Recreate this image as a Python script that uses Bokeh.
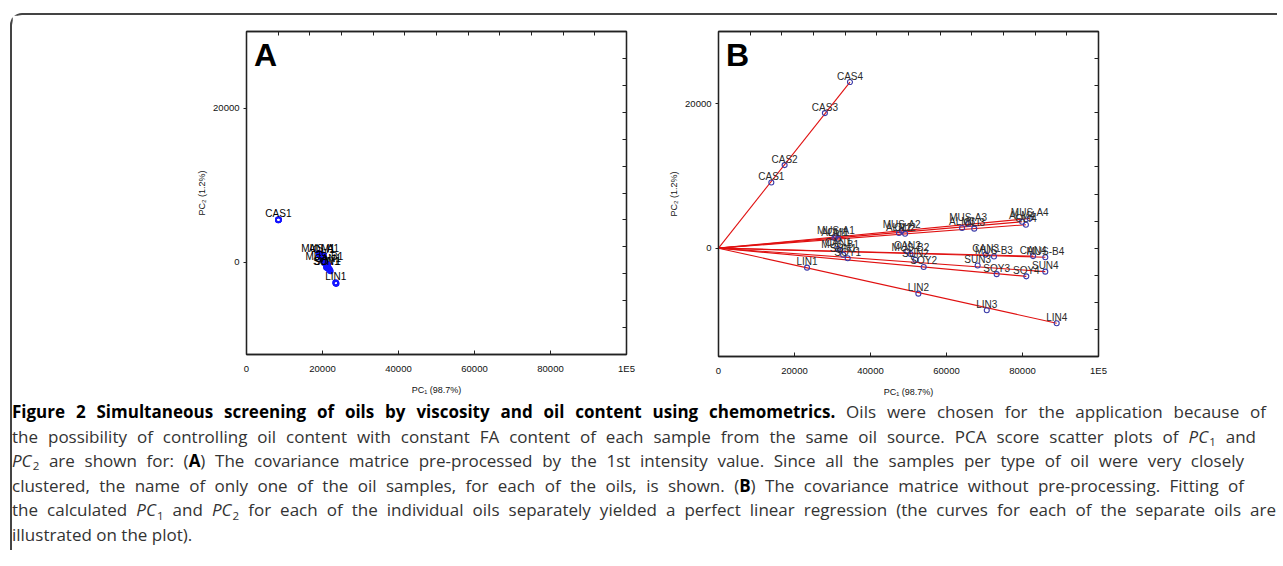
from bokeh.plotting import figure
from bokeh.models import (ColumnDataSource, FixedTicker, LinearAxis, Range1d, Label, Div,
                          BasicTickFormatter)
from bokeh.layouts import row, column
from bokeh.core.properties import value
from bokeh.embed import file_html
from bokeh.resources import INLINE

# ---------------- data ----------------
oils = ["CAS", "LIN", "MUS-A", "ALM", "OLI", "MUS-B", "CAN", "SUN", "SOY"]

# Panel A: pre-processed by 1st intensity value (4 samples per oil, very closely clustered)
a_names = ["CAS1", "CAS2", "CAS3", "CAS4",
           "LIN1", "LIN2", "LIN3", "LIN4",
           "MUS-A1", "MUS-A2", "MUS-A3", "MUS-A4",
           "ALM1", "ALM2", "ALM3", "ALM4",
           "OLI1", "OLI2", "OLI3", "OLI4",
           "MUS-B1", "MUS-B2", "MUS-B3", "MUS-B4",
           "CAN1", "CAN2", "CAN3", "CAN4",
           "SUN1", "SUN2", "SUN3", "SUN4",
           "SOY1", "SOY2", "SOY3", "SOY4"]
a_pc1 = [8400, 8380, 8420, 8440,
         23500, 23450, 23550, 23600,
         19400, 19000, 19150, 19300,
         19900, 19250, 19500, 19700,
         20300, 19600, 19800, 20000,
         20500, 20100, 20300, 20600,
         21400, 20700, 20900, 21100,
         21000, 21200, 21400, 21600,
         21300, 21700, 21900, 22100]
a_pc2 = [5500, 5480, 5520, 5540,
         -2700, -2650, -2750, -2780,
         950, 1150, 1050, 1000,
         1000, 950, 850, 800,
         900, 700, 600, 500,
         -100, 300, 150, 0,
         -300, -50, -200, -350,
         -650, -500, -650, -800,
         -750, -900, -1000, -1150]

# Panel B: without pre-processing
b_names = ["CAS1", "CAS2", "CAS3", "CAS4",
           "LIN1", "LIN2", "LIN3", "LIN4",
           "MUS-A1", "MUS-A2", "MUS-A3", "MUS-A4",
           "ALM1", "ALM2", "ALM3", "ALM4",
           "OLI1", "OLI2", "OLI3", "OLI4",
           "MUS-B1", "MUS-B2", "MUS-B3", "MUS-B4",
           "CAN1", "CAN2", "CAN3", "CAN4",
           "SUN1", "SUN2", "SUN3", "SUN4",
           "SOY1", "SOY2", "SOY3", "SOY4"]
b_pc1 = [13900, 17400, 28000, 34600,
         23300, 52600, 70600, 89000,
         30900, 48200, 65700, 81900,
         30500, 47500, 64100, 79900,
         31500, 49100, 67300, 80900,
         32000, 50500, 72500, 86000,
         31500, 49700, 70300, 82800,
         32800, 51800, 68200, 86000,
         34000, 54000, 73200, 81000]
b_pc2 = [9100, 11500, 18700, 23000,
         -2700, -6300, -8600, -10400,
         1650, 2400, 3350, 4100,
         1400, 2100, 2800, 3650,
         1300, 2000, 2700, 3250,
         -300, -800, -1150, -1250,
         -100, -450, -900, -1100,
         -900, -1600, -2400, -3250,
         -1400, -2600, -3600, -3900]

x_ticks = [0, 20000, 40000, 60000, 80000, 100000]
x_tick_text = {100000: "1E5"}
y_ticks = [0, 20000]
x_range_ab = (0, 100000)
a_y_range = (-12000, 30000)
b_y_range = (-15000, 30000)
x_title = "PC\u2081 (98.7%)"
y_title = "PC\u2082 (1.2%)"

FONT = "Liberation Sans"
AX = "#222222"


def make_panel(names, pc1, pc2, yr, letter, lines, border, frame_h,
               mcolor, mwidth, tcolor):
    p = figure(x_range=Range1d(*x_range_ab), y_range=Range1d(*yr),
               frame_width=380, frame_height=frame_h,
               min_border_left=border[0], min_border_right=border[1],
               min_border_top=border[2], min_border_bottom=border[3],
               output_backend="svg", toolbar_location=None)
    p.xgrid.visible = False
    p.ygrid.visible = False
    p.outline_line_color = AX
    p.outline_line_width = 1.3
    p.background_fill_color = "white"
    p.border_fill_color = "white"

    xa = p.xaxis[0]
    xa.ticker = FixedTicker(ticks=x_ticks)
    xa.formatter = BasicTickFormatter(use_scientific=False)
    xa.major_label_overrides = x_tick_text
    xa.major_tick_in = 4
    xa.major_tick_out = 0
    xa.minor_tick_line_color = None
    xa.major_label_standoff = 8
    xa.axis_label = x_title
    xa.axis_label_standoff = 8

    ya = p.yaxis[0]
    ya.ticker = FixedTicker(ticks=y_ticks)
    ya.formatter = BasicTickFormatter(use_scientific=False)
    ya.major_tick_in = 0
    ya.major_tick_out = 3
    ya.minor_tick_line_color = None
    ya.major_label_standoff = 4
    ya.axis_label = y_title
    ya.axis_label_standoff = 3

    for ax in (xa, ya):
        ax.axis_line_color = AX
        ax.axis_line_width = 1.3
        ax.major_tick_line_color = AX
        ax.major_label_text_font = FONT
        ax.major_label_text_font_size = "9.5px"
        ax.major_label_text_color = "#111111"
        ax.axis_label_text_font = FONT
        ax.axis_label_text_font_size = "9px"
        ax.axis_label_text_font_style = "normal"
        ax.axis_label_text_color = "#111111"

    top_ticks = [x_range_ab[0] + k * (x_range_ab[1] - x_range_ab[0]) / 12 for k in range(1, 12)]
    right_ticks = [yr[0] + k * (yr[1] - yr[0]) / 12 for k in range(1, 12)]
    ta = LinearAxis(ticker=FixedTicker(ticks=top_ticks),
                    major_label_overrides={t: "" for t in top_ticks})
    ra = LinearAxis(ticker=FixedTicker(ticks=right_ticks),
                    major_label_overrides={t: "" for t in right_ticks})
    for ax in (ta, ra):
        ax.major_tick_in = 4
        ax.major_tick_out = 0
        ax.minor_tick_line_color = None
        ax.major_label_standoff = 0
        ax.axis_line_color = AX
        ax.axis_line_width = 1.3
        ax.major_tick_line_color = AX
    p.add_layout(ta, "above")
    p.add_layout(ra, "right")

    src = ColumnDataSource(dict(x=pc1, y=pc2, name=names))

    if lines:
        x1, y1 = [], []
        for oil in oils:
            idx = [i for i, n in enumerate(names) if n[:-1] == oil]
            j = max(idx, key=lambda i: pc1[i])
            x1.append(pc1[j])
            y1.append(pc2[j])
        lsrc = ColumnDataSource(dict(x0=[0] * len(x1), y0=[0] * len(y1), x1=x1, y1=y1))
        p.segment(x0="x0", y0="y0", x1="x1", y1="y1", source=lsrc,
                  line_color="#e01010", line_width=1.1)

    p.scatter(x="x", y="y", source=src, marker="circle", size=5,
              fill_color=None, line_color=mcolor, line_width=mwidth)

    if lines:
        lab = src
    else:
        keep = [i for i, n in enumerate(names) if n.endswith("1")]
        lab = ColumnDataSource(dict(x=[pc1[i] for i in keep], y=[pc2[i] for i in keep],
                                    name=[names[i] for i in keep]))
    p.text(x="x", y="y", text="name", source=lab, text_align="center",
           text_baseline="alphabetic", y_offset=-6,
           text_font=value(FONT), text_font_size="10px", text_color=tcolor)

    lx = x_range_ab[0] + 0.02 * (x_range_ab[1] - x_range_ab[0])
    ly = yr[1] - 23 / frame_h * (yr[1] - yr[0])
    p.add_layout(Label(x=lx, y=ly, text=letter, text_font=FONT, text_font_size="32px",
                       text_font_style="bold", text_color="black",
                       text_baseline="alphabetic", text_align="left"))
    return p


pA = make_panel(a_names, a_pc1, a_pc2, a_y_range, "A", False,
                (234, 36, 16, 46), 323, "#1414ff", 1.6, "#000000")
pB = make_panel(b_names, b_pc1, b_pc2, b_y_range, "B", True,
                (56, 179, 15, 45), 325, "#3a3aa8", 1.1, "#2a2a2a")

SUB = "<sub style='font-size:0.68em;line-height:0;vertical-align:-0.28em;margin-left:1px'>{}</sub>"
PC1 = "<i>PC</i>" + SUB.format("1")
PC2 = "<i>PC</i>" + SUB.format("2")

cap_lines = [
    "<b style='color:#000'>Figure 2 Simultaneous screening of oils by viscosity and oil content using chemometrics.</b> "
    "Oils were chosen for the application because of",
    "the possibility of controlling oil content with constant FA content of each sample from the same oil source. "
    "PCA score scatter plots of " + PC1 + " and",
    PC2 + " are shown for: (<b style='color:#000'>A</b>) The covariance matrice pre-processed by the 1st intensity value. "
    "Since all the samples per type of oil were very closely",
    "clustered, the name of only one of the oil samples, for each of the oils, is shown. "
    "(<b style='color:#000'>B</b>) The covariance matrice without pre-processing. Fitting of",
    "the calculated " + PC1 + " and " + PC2 + " for each of the individual oils separately yielded a perfect "
    "linear regression (the curves for each of the separate oils are",
    "illustrated on the plot).",
]
cap_widths = [1254, 1244, 1232, 1232, 1264, None]

html_parts = []
for t, w in zip(cap_lines, cap_widths):
    if w:
        html_parts.append(f"<div style='width:{w}px;text-align:justify;text-align-last:justify'>{t}</div>")
    else:
        html_parts.append(f"<div>{t}</div>")
cap_html = ("<div style=\"font-family:'Open Sans';font-size:17px;"
            "line-height:24.6px;color:#333;margin:0;padding:0\">" + "".join(html_parts) + "</div>")

cap = Div(text=cap_html, width=1265, height=150, styles={"margin": "0", "padding": "0"})

layout = column(row(pA, pB), cap,
                styles={"margin-left": "10px", "margin-top": "13px",
                        "border-left": "2px solid #444", "border-top": "2px solid #444",
                        "border-top-left-radius": "12px"})

open("out.html", "w").write(file_html(layout, INLINE))
